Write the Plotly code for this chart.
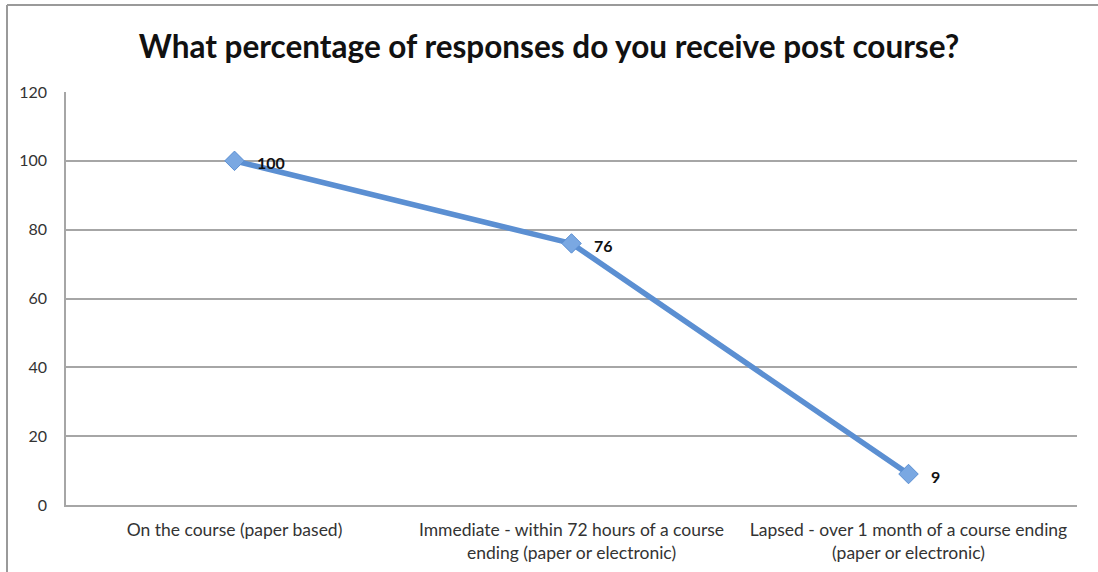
import plotly.graph_objects as go

categories = [
    "On the course (paper based)",
    "Immediate - within 72 hours of a course<br>ending (paper or electronic)",
    "Lapsed - over 1 month of a course ending<br>(paper or electronic)",
]
responses = [100, 76, 9]
y_ticks = [0, 20, 40, 60, 80, 100, 120]

W, H = 1098, 572
L, R, T, B = 66, 21, 92, 67
pw, ph = W - L - R, H - T - B


def px_x(x):
    return (x - L) / pw


def px_y(y):
    return (H - B - y) / ph


FONT = "Lato"

fig = go.Figure()
fig.add_trace(go.Scatter(
    x=categories,
    y=responses,
    mode="lines+markers",
    line=dict(color="#5b8fd2", width=5.5),
    marker=dict(symbol="diamond", size=15, color="#7aa8e2",
                line=dict(color="#5b8fd2", width=1)),
    cliponaxis=False,
    hoverinfo="x+y",
))

# value labels to the right of each point
for cat, val in zip(categories, responses):
    fig.add_annotation(
        x=cat, y=val, text=f"<b>{val}</b>", showarrow=False,
        xanchor="left", yanchor="middle", xshift=20, yshift=-2,
        font=dict(family=FONT, size=16, color="#111111"),
    )

grid = "#a6a6a6"
fig.update_layout(
    width=W, height=H,
    margin=dict(l=L, r=R, t=T, b=B, autoexpand=False),
    paper_bgcolor="white",
    plot_bgcolor="white",
    showlegend=False,
    title=dict(
        text="<b>What percentage of responses do you receive post course?</b>",
        x=0.5, xanchor="center", y=1 - 47 / H, yanchor="middle",
        font=dict(family=FONT, size=31.5, color="#111111"),
    ),
    xaxis=dict(
        showgrid=False, showline=True, linecolor=grid, linewidth=1.5,
        ticks="", ticklabelstandoff=8, automargin=False,
        tickfont=dict(family=FONT, size=17.5, color="#333333"),
        range=[-0.5, 2.5], fixedrange=True,
    ),
    yaxis=dict(
        range=[0, 120], tickvals=y_ticks, showgrid=True, gridcolor=grid,
        gridwidth=1.5, showline=True, linecolor=grid, linewidth=1.5,
        ticks="", ticklabelstandoff=14, zeroline=False, automargin=False,
        tickfont=dict(family=FONT, size=16, color="#333333"),
        fixedrange=True,
    ),
    shapes=[
        dict(type="line", xref="paper", yref="paper",
             x0=px_x(7), x1=px_x(W), y0=px_y(5), y1=px_y(5),
             line=dict(color="#9a9a9a", width=2)),
        dict(type="line", xref="paper", yref="paper",
             x0=px_x(7), x1=px_x(7), y0=px_y(5), y1=px_y(H),
             line=dict(color="#9a9a9a", width=2)),
    ],
)

fig.write_html("out.html")
